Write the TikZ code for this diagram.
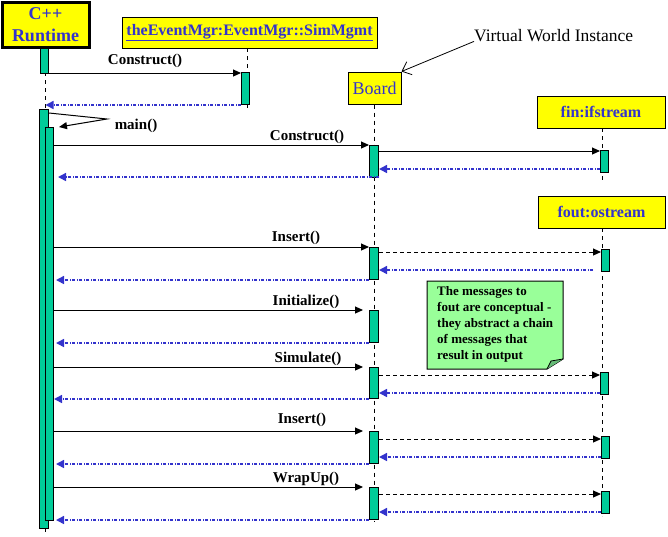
\documentclass[tikz,border=0pt]{standalone}
\usepackage{fontspec}
\setmainfont{Liberation Serif}
\usetikzlibrary{arrows.meta,calc}
\definecolor{boxyellow}{HTML}{FFFF00}
\definecolor{actgreen}{HTML}{00CC99}
\definecolor{txtblue}{HTML}{3333CC}
\definecolor{notegreen}{HTML}{99FF99}
\definecolor{foldgreen}{HTML}{66BB77}
\newcommand\mkact[5]{\node[act, anchor=north west, minimum width=#4pt, minimum height=#5pt] (#1) at (#2,#3) {};}
\begin{document}
\begin{tikzpicture}[x=1pt,y=-1pt,
 obj/.style={draw=black, line width=1pt, fill=boxyellow, text=txtblue, inner sep=0pt, font=\fontsize{16}{19}\selectfont\bfseries},
 act/.style={draw=black, line width=1pt, fill=actgreen, inner sep=0pt},
 life/.style={line width=0.9pt, dash pattern=on 4pt off 4pt},
 call/.style={line width=1pt, -{Triangle[length=8pt,width=7pt]}},
 dcall/.style={call, dash pattern=on 4pt off 3pt},
 ret/.style={line width=1.5pt, draw=txtblue, dash pattern=on 3pt off 1.5pt on 1pt off 1.5pt, -{Triangle[length=8pt,width=8pt,fill=txtblue]}},
 lbl/.style={font=\fontsize{15}{18}\selectfont\bfseries, inner sep=0pt},
]
\useasboundingbox (0,0) rectangle (668,536);

% objects
\node[obj, line width=3pt, minimum width=87pt, minimum height=45pt, align=center, font=\fontsize{18}{22}\selectfont\bfseries] (rt) at (45.5,25) {C++\\Runtime};
\node[obj, minimum width=255pt, minimum height=31pt] (em) at (249.5,32.5) {\underline{theEventMgr:EventMgr::SimMgmt}};
\node[obj, minimum width=53pt, minimum height=32pt, font=\fontsize{18}{21}\selectfont] (bd) at (374.5,88) {Board};
\node[obj, minimum width=128pt, minimum height=32pt] (fin) at (601,112) {fin:ifstream};
\node[obj, minimum width=127pt, minimum height=32pt] (fout) at (601.5,212) {fout:ostream};

% lifelines
\draw[life] (rt.south |- 0,48) -- (rt.south |- 0,533);
\draw[life] (247,48) -- (247,108);
\draw[life] (bd.south) -- (bd.south |- 0,521);
\draw[life] (602,128) -- (602,182);
\draw[life] (602,228) -- (602,516);

% activations
\mkact{rtA0}{40}{48}{8}{25}
\mkact{emA}{241}{72}{8}{32}
\mkact{rtA1}{39}{109}{9}{419}
\mkact{rtA2}{45}{127}{8}{393}
\mkact{bdA1}{369}{145}{9}{32}
\mkact{finA}{600}{150}{8}{22}
\mkact{bdA2}{369}{247}{9}{32}
\mkact{foA1}{601}{249}{8}{22}
\mkact{bdA3}{369}{310}{9}{32}
\mkact{bdA4}{369}{367}{9}{31}
\mkact{foA2}{600}{372}{8}{22}
\mkact{bdA5}{369}{431}{9}{32}
\mkact{foA3}{601}{436}{8}{22}
\mkact{bdA6}{369}{487}{9}{32}
\mkact{foA4}{601}{491}{8}{22}

% Construct() to EventMgr
\draw[call] (rtA0.east |- 0,73) -- (emA.west |- 0,73);
\node[lbl] (l1) at (145,61) {Construct()};
\draw[ret] (emA.south west) -- (rt.south |- emA.south);

% main()
\coordinate (mainturn) at (107,119);
\draw[line width=1pt, -{Triangle[length=8pt,width=7pt]}] (rtA1.north east |- 0,113) -- (mainturn) -- ($(rtA2.north east)+(5,0)$);
\node[lbl] (l2) at (136,126) {main()};

% Construct() to Board
\draw[call] (rtA2.east |- 0,145) -- (bdA1.west |- 0,145);
\node[lbl] (l3) at (307,137) {Construct()};
\draw[call] (bdA1.east |- 0,151) -- (finA.west |- 0,151);
\draw[ret] (finA.west |- 0,169) -- (bdA1.east |- 0,169);
\draw[ret] (bdA1.east |- 0,177) -- ($(rtA2.east |- 0,177)+(4,0)$);

% Insert()
\draw[call] (rtA2.east |- 0,247) -- (bdA2.west |- 0,247);
\node[lbl] (l4) at (296,238) {Insert()};
\draw[dcall] (bdA2.east |- 0,252) -- (foA1.west |- 0,252);
\draw[ret] ($(foA1.west |- 0,270)+(-8,0)$) -- (bdA2.east |- 0,270);
\draw[ret] (bdA2.south west) -- ($(rtA2.east |- bdA2.south)+(2,0)$);

% Initialize()
\draw[call, shorten >=6pt] (rtA2.east |- 0,310) -- (bdA3.west |- 0,310);
\node[lbl] (l5) at (306,302) {Initialize()};
\draw[ret] (bdA3.south west) -- ($(rtA2.east |- bdA3.south)+(2,0)$);

% Simulate()
\draw[call, shorten >=6pt] (rtA2.east |- 0,367) -- (bdA4.west |- 0,367);
\node[lbl] (l6) at (308,359) {Simulate()};
\draw[dcall] (bdA4.east |- 0,375) -- (foA2.west |- 0,375);
\draw[ret] (foA2.west |- 0,393) -- (bdA4.east |- 0,393);
\draw[ret] (bdA4.south west) -- (rtA2.east |- bdA4.south);

% Insert()
\draw[call, shorten >=6pt] (rtA2.east |- 0,431) -- (bdA5.west |- 0,431);
\node[lbl] (l7) at (302,420) {Insert()};
\draw[dcall] (bdA5.east |- 0,439) -- (foA3.west |- 0,439);
\draw[ret] (foA3.west |- 0,457) -- (bdA5.east |- 0,457);
\draw[ret] (bdA5.south west) -- ($(rtA2.east |- bdA5.south)+(2,0)$);

% WrapUp()
\draw[call, shorten >=6pt] (rtA2.east |- 0,487) -- (bdA6.west |- 0,487);
\node[lbl] (l8) at (306,479) {WrapUp()};
\draw[dcall] (bdA6.east |- 0,494) -- (foA4.west |- 0,494);
\draw[ret] (foA4.west |- 0,512) -- (bdA6.east |- 0,512);
\draw[ret] (bdA6.south west) -- ($(rtA2.east |- bdA6.south)+(2,0)$);

% Virtual World Instance
\node[anchor=west, inner sep=0pt, font=\fontsize{17.5}{20}\selectfont] (vwi) at (474,36) {Virtual World Instance};
\draw[line width=0.8pt, -{Straight Barb[length=8pt,width=14pt]}] ($(vwi.south west)+(0,-1)$) -- (bd.north east);

% note
\filldraw[fill=notegreen, draw=black, line width=1pt] (427,281) -- (563,281) -- (563,359) -- (547,369) -- (427,369) -- cycle;
\filldraw[fill=foldgreen, draw=black, line width=0.8pt] (547,369) -- (551,361) -- (563,359);
\node[anchor=north west, align=left, inner sep=0pt, font=\fontsize{13}{16}\selectfont\bfseries] (notetext) at (437,286) {The messages to\\fout are conceptual -\\they abstract a chain\\of messages that\\result in output};
\end{tikzpicture}
\end{document}
